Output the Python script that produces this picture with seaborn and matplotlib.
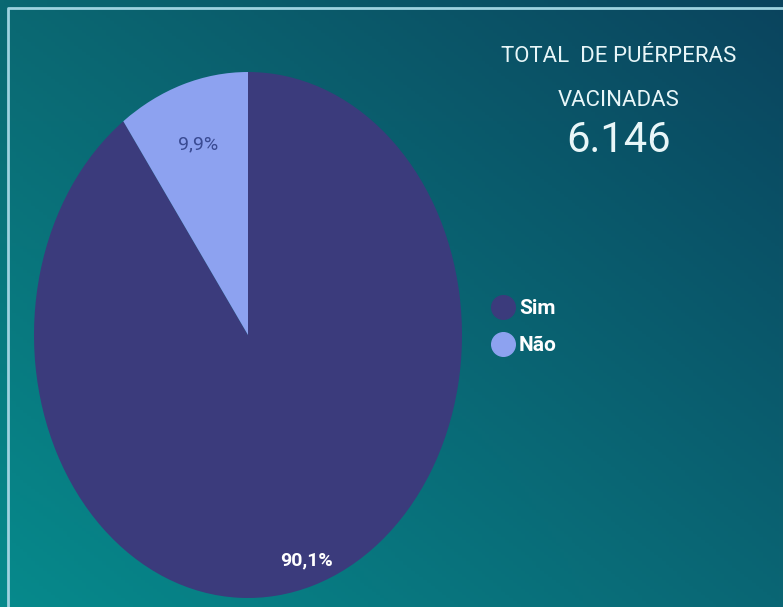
import numpy as np
import matplotlib.pyplot as plt
import seaborn as sns
from matplotlib.lines import Line2D

sns.set_style("white")
plt.rcParams['font.family'] = ['Roboto', 'DejaVu Sans']

# data
categorias = ["Sim", "Não"]
percentuais = [90.1, 9.9]
rotulos = ["90,1%", "9,9%"]
cores = ["#3b3b7c", "#8da2f0"]
total = "6.146"

fig = plt.figure(figsize=(7.83, 6.07), dpi=100)

# background gradient (teal bottom-left -> dark blue top-right)
bg = fig.add_axes([0, 0, 1, 1])
tl = np.array([0x0b, 0x68, 0x72]) / 255
tr = np.array([0x0a, 0x44, 0x5e]) / 255
bl = np.array([0x06, 0x8a, 0x8c]) / 255
br = np.array([0x0a, 0x66, 0x74]) / 255
u = np.linspace(0, 1, 200)[None, :, None]
v = np.linspace(0, 1, 200)[:, None, None]
img = (1 - v) * ((1 - u) * tl + u * tr) + v * ((1 - u) * bl + u * br)
bg.imshow(img, aspect="auto", extent=[0, 1, 0, 1], origin="upper")
bg.set_xlim(0, 1)
bg.set_ylim(0, 1)
bg.axis("off")
# frame line
bg.plot([8 / 783, 8 / 783, 1.01], [-0.01, 1 - 8 / 607, 1 - 8 / 607],
        color="#9fd3e0", lw=2, solid_capstyle="butt")

# pie (stretched vertically like the reference)
ax = fig.add_axes([34 / 783, 9 / 607, 428 / 783, 526 / 607])
wedges, _ = ax.pie(percentuais, colors=cores, startangle=90, counterclock=False,
                   radius=1, wedgeprops=dict(linewidth=0))
ax.set_aspect("auto")
ax.set_xlim(-1, 1)
ax.set_ylim(-1, 1)
ax.axis("off")

# percentage labels
dist = [0.9, 0.76]
cor_txt = ["white", "#3a4b93"]
for w, lab, d, c in zip(wedges, rotulos, dist, cor_txt):
    ang = np.deg2rad((w.theta1 + w.theta2) / 2)
    ax.text(d * np.cos(ang), d * np.sin(ang), lab, ha="center", va="center",
            fontsize=14, color=c, fontweight="bold" if c == "white" else "normal")

# legend
handles = [Line2D([], [], marker="o", ls="", markersize=17, color=c) for c in cores]
leg = fig.legend(handles, categorias, loc="center left", bbox_to_anchor=(0.6, 0.461),
                 frameon=False, handletextpad=0.05, labelspacing=0.85,
                 handlelength=1.4, prop=dict(size=15, weight="bold"))
for t in leg.get_texts():
    t.set_color("white")

# title block
fig.text(0.79, 1 - 57 / 607, "TOTAL  DE PUÉRPERAS", ha="center", va="center",
         fontsize=16, color="#e8f6f8")
fig.text(0.79, 1 - 100 / 607, "VACINADAS", ha="center", va="center",
         fontsize=16, color="#e8f6f8")
fig.text(0.79, 1 - 140 / 607, total, ha="center", va="center",
         fontsize=30, color="#e8f6f8")

fig.savefig("out.png", dpi=100)
